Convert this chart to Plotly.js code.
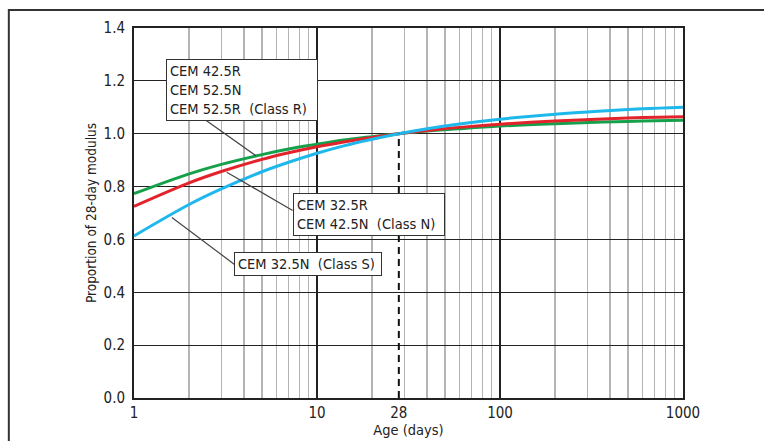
<!DOCTYPE html>
<html>
<head>
<meta charset="utf-8">
<script src="https://cdn.plot.ly/plotly-3.0.1.min.js"></script>
<style>html,body{margin:0;padding:0;background:#fff;}#chart{width:764px;height:441px;}</style>
</head>
<body>
<div id="chart"></div>
<script>
// Age in days
var ageDays = [1, 2, 3, 5, 7, 10, 14, 20, 28, 40, 60, 100, 200, 365, 600, 1000];
// Proportion of 28-day modulus
var classR = [0.773, 0.848, 0.884, 0.921, 0.942, 0.960, 0.976, 0.989, 1.000, 1.010, 1.019, 1.029, 1.038, 1.044, 1.048, 1.051];
var classN = [0.725, 0.814, 0.857, 0.903, 0.928, 0.951, 0.969, 0.986, 1.000, 1.012, 1.024, 1.036, 1.048, 1.056, 1.061, 1.064];
var classS = [0.613, 0.732, 0.791, 0.856, 0.892, 0.926, 0.954, 0.979, 1.000, 1.019, 1.037, 1.055, 1.074, 1.086, 1.094, 1.100];
var refAge = [28, 28];
var refVal = [0, 1.0];
var xTickVals = [1, 10, 28, 100, 1000];
var xTickText = ['1', '10', '28', '100', '1000'];
var minorVals = [2,3,4,5,6,7,8,9,20,30,40,50,60,70,80,90,200,300,400,500,600,700,800,900];
var majorGrid = [10, 100];
var labelR = 'CEM 42.5R<br>CEM 52.5N<br>CEM 52.5R  (Class R)';
var labelN = 'CEM 32.5R<br>CEM 42.5N  (Class N)';
var labelS = 'CEM 32.5N  (Class S)';

var FONT = 'DejaVu Sans Condensed, Open Sans, sans-serif';

var traces = [
  {x: ageDays, y: classR, mode: 'lines', line: {color: '#17a04b', width: 3, shape: 'spline'}, name: 'Class R', hoverinfo: 'skip'},
  {x: ageDays, y: classN, mode: 'lines', line: {color: '#e3232c', width: 3, shape: 'spline'}, name: 'Class N', hoverinfo: 'skip'},
  {x: ageDays, y: classS, mode: 'lines', line: {color: '#1fb8ec', width: 3, shape: 'spline'}, name: 'Class S', hoverinfo: 'skip'},
  {x: refAge, y: refVal, xaxis: 'x2', yaxis: 'y', mode: 'lines', line: {color: '#111', width: 2, dash: '7px,5px'}, hoverinfo: 'skip'}
];

var boxStyle = {bordercolor: '#333', borderwidth: 1, borderpad: 3, bgcolor: '#fff', align: 'left', showarrow: false,
  xref: 'paper', yref: 'paper', xanchor: 'left', yanchor: 'top', font: {family: FONT, size: 14.5, color: '#222'}};
function box(text, x, y, w) { var a = Object.assign({}, boxStyle); a.text = text; a.x = x; a.y = y; a.width = w; return a; }

function lineShape(x0, y0, x1, y1) {
  return {type: 'line', xref: 'paper', yref: 'paper', x0: x0, y0: y0, x1: x1, y1: y1, line: {color: '#444', width: 1.2}};
}

var layout = {
  width: 764, height: 441,
  margin: {l: 134, r: 81, t: 28, b: 43},
  paper_bgcolor: '#fff', plot_bgcolor: '#fff',
  showlegend: false,
  font: {family: FONT, size: 14, color: '#222'},
  xaxis: {
    type: 'log', range: [0, 3], tickmode: 'array', tickvals: xTickVals, ticktext: xTickText,
    showgrid: false, zeroline: false, ticks: '',
    showline: true, linecolor: '#222', linewidth: 2, mirror: true,
    minor: {tickmode: 'array', tickvals: minorVals, showgrid: true, gridcolor: '#b4b4b4', gridwidth: 1.5, ticks: ''},
    tickfont: {family: FONT, size: 15, color: '#222'},
    title: {text: 'Age (days)', font: {family: FONT, size: 14.5, color: '#222'}, standoff: 4}
  },
  xaxis2: {
    type: 'log', range: [0, 3], overlaying: 'x', tickmode: 'array', tickvals: majorGrid,
    showgrid: true, gridcolor: '#222', gridwidth: 1.2, showticklabels: false, ticks: '', zeroline: false, showline: false
  },
  yaxis: {
    range: [0, 1.4], dtick: 0.2, tickformat: '.1f', showgrid: true, gridcolor: '#222', gridwidth: 1.2,
    zeroline: false, ticks: '', ticklabelstandoff: 4,
    showline: true, linecolor: '#222', linewidth: 2, mirror: true,
    tickfont: {family: FONT, size: 15, color: '#222'},
    title: {text: 'Proportion of 28-day modulus', font: {family: FONT, size: 13.5, color: '#222'}}
  },
  annotations: [
    box(labelR, 0.0577, 0.9154, 144),
    box(labelN, 0.289, 0.554, 144),
    box(labelS, 0.183, 0.394, 140)
  ],
  shapes: [
    {type: 'path', xref: 'paper', yref: 'paper', path: 'M -0.228,-0.2 L -0.228,1.0486 L 1.2,1.0486', line: {color: '#333', width: 2}},
    lineShape(0.129, 0.753, 0.222, 0.655),
    lineShape(0.169, 0.610, 0.289, 0.507),
    lineShape(0.069, 0.488, 0.183, 0.361)
  ]
};

Plotly.newPlot('chart', traces, layout, {staticPlot: true});
</script>
</body>
</html>
